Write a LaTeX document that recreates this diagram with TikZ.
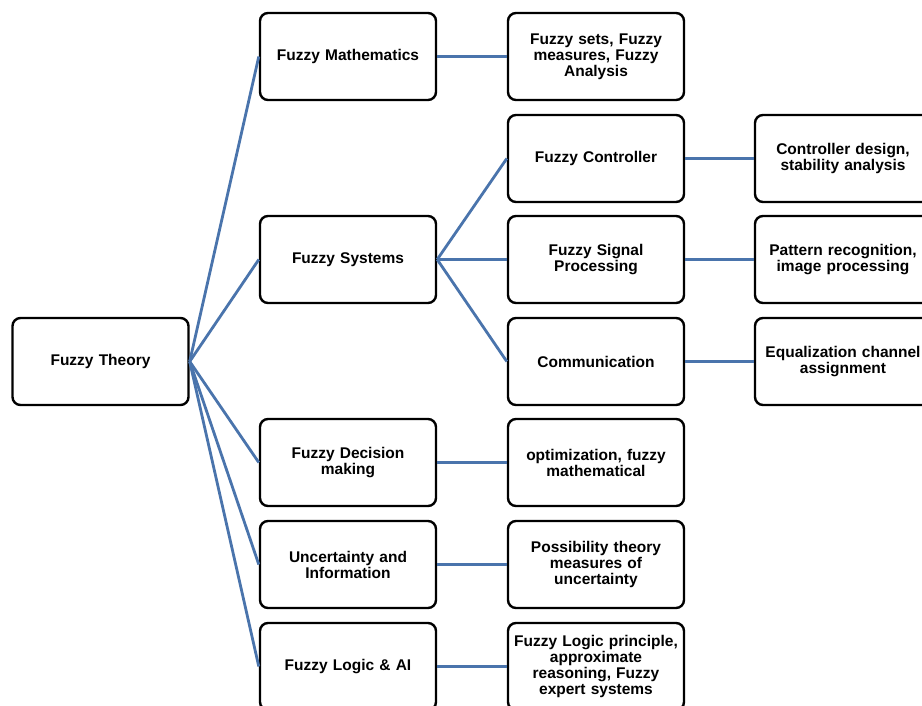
\documentclass[tikz,border=0pt]{standalone}
\usepackage{fontspec}
\setmainfont{Liberation Sans}
\definecolor{linkblue}{RGB}{74,116,172}
\tikzset{
  box/.style={draw=black, line width=2.4pt, rounded corners=8pt, fill=white,
    minimum width=176pt, minimum height=87pt, inner sep=0pt, text width=176pt,
    align=center, font=\bfseries\fontsize{15.5}{16}\selectfont},
  link/.style={draw=linkblue, line width=2.8pt}
}
\begin{document}
\begin{tikzpicture}[x=1pt,y=-1pt]
\useasboundingbox (0,0) rectangle (922,705);
% nodes
\node[box] (ft) at (100.5,361.5) {Fuzzy Theory};
\node[box] (fm) at (348,56.5) {Fuzzy Mathematics};
\node[box] (fs) at (348,259.5) {Fuzzy Systems};
\node[box] (fd) at (348,462.5) {Fuzzy Decision\\making};
\node[box] (ui) at (348,564.5) {Uncertainty and\\Information};
\node[box] (fl) at (348,666.5) {Fuzzy Logic \& AI};
\node[box] (fsets) at (596,56.5) {Fuzzy sets, Fuzzy\\measures, Fuzzy\\Analysis};
\node[box] (fc) at (596,158.5) {Fuzzy Controller};
\node[box] (fsp) at (596,259.5) {Fuzzy Signal\\Processing};
\node[box] (com) at (596,361.5) {Communication};
\node[box] (opt) at (596,462.5) {optimization, fuzzy\\mathematical};
\node[box] (pos) at (596,564.5) {Possibility theory\\measures of\\uncertainty};
\node[box] (flp) at (596,666.5) {Fuzzy Logic principle,\\approximate\\reasoning, Fuzzy\\expert systems};
\node[box] (cd) at (843,158.5) {Controller design,\\stability analysis};
\node[box] (pr) at (843,259.5) {Pattern recognition,\\image processing};
\node[box] (eq) at (843,361.5) {Equalization channel\\assignment};
% connectors
\foreach \t in {fm,fs,fd,ui,fl} \draw[link] (ft.east) -- (\t.west);
\foreach \t in {fc,fsp,com} \draw[link] (fs.east) -- (\t.west);
\draw[link] (fm) -- (fsets);
\draw[link] (fd) -- (opt);
\draw[link] (ui) -- (pos);
\draw[link] (fl) -- (flp);
\draw[link] (fc) -- (cd);
\draw[link] (fsp) -- (pr);
\draw[link] (com) -- (eq);
\end{tikzpicture}
\end{document}
